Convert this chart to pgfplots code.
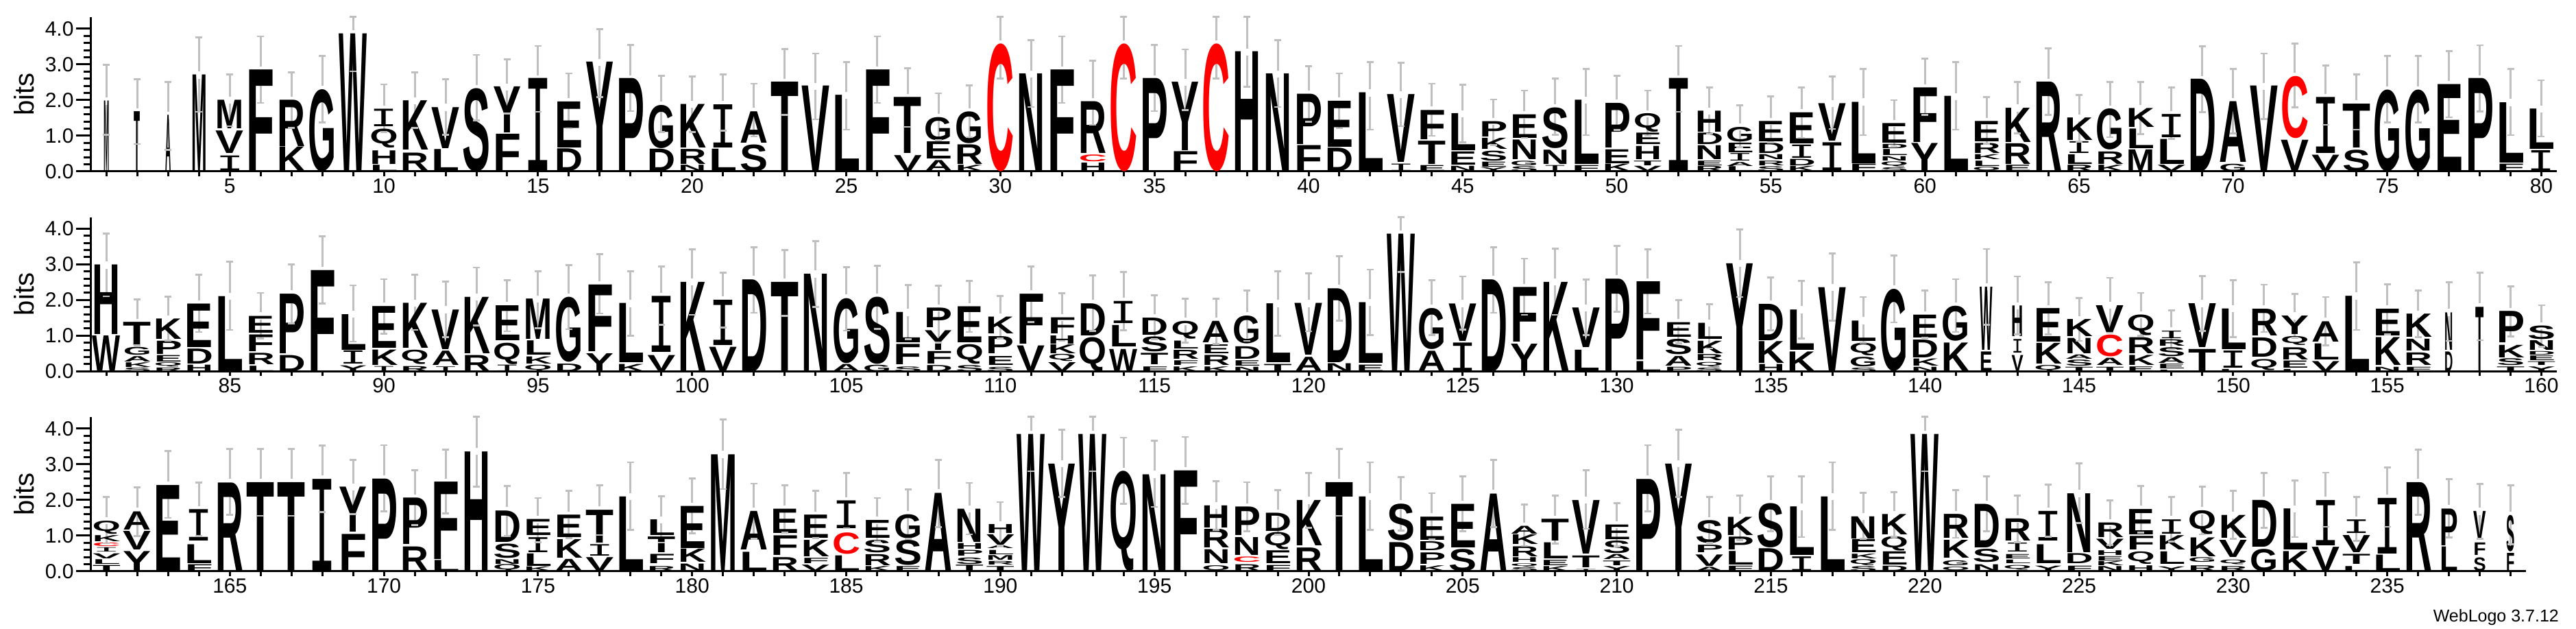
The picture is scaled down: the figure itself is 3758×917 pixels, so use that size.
\documentclass[border=0pt]{standalone}
\usepackage{fontspec}
\usepackage{graphicx}
\usepackage{pgfplots}
\usepackage{pgfplotstable}
\pgfplotsset{compat=1.18}
\setmainfont{Liberation Sans}
\newfontfamily\ifont{Liberation Mono}
\definecolor{errgrey}{gray}{0.75}
\def\letterI{I}
\newcommand{\logoglyph}{\edef\tmpl{\pgfplotspointmeta}\ifx\tmpl\letterI{\ifont I}\else{\bfseries\pgfplotspointmeta}\fi}
\pgfplotsset{
 logo/.style={only marks, mark=none, point meta=explicit symbolic,
  visualization depends on={\thisrow{b}-\thisrow{a}\as\hh},
  visualization depends on={\thisrow{w}\as\www},
  nodes near coords={\pgfmathsetlengthmacro\hl{\hh*52pt}\pgfmathsetlengthmacro\wl{\www*41pt}\resizebox*{\wl}{\hl}{\logoglyph}},
  nodes near coords style={anchor=south,inner sep=0pt,outer sep=0pt,text=#1}},
 errbar/.style={errgrey, line width=3pt, mark=none},
 errcap/.style={only marks, mark=-, mark size=5pt, draw=errgrey, line width=2.7pt, mark options={draw=errgrey,solid}},
 rowaxis/.style={scale only axis, height=224.64pt, ymin=0, ymax=4.32, clip=false,
  axis x line*=bottom, axis y line*=left, axis line style={-,line width=3pt,black},
  tick align=outside, tick style={black,line width=3pt},
  major tick length=22pt, minor tick length=11pt,
  ytick={0,1,2,3,4}, yticklabels={0.0,1.0,2.0,3.0,4.0}, minor y tick num=4,
  xtick=\empty, extra x tick style={major tick length=7pt},
  tick label style={font=\fontsize{30}{36}\selectfont},
  tick label style={black},
  ylabel={\fontsize{40}{48}\selectfont bits},
  every axis y label/.style={at={(axis description cs:0,0.5)},anchor=center,xshift=-98pt,rotate=90},
 },
}
\pgfplotstableread[row sep=\\]{p a b L w\\
1 0 1.97 M .2\\ 2 0 1.67 T .22\\ 3 0 1.57 A .2\\ 4 0 2.7 M .55\\
5 .03 .44 I 1\\ 5 .5 1.13 V 1\\ 5 1.2 2 M 1\\
6 0 2.84 F 1\\ 7 0 .68 K 1\\ 7 .7 2 R 1\\ 8 0 2.3 G 1\\ 9 0 3.87 W 1\\
10 0 .17 L 1\\ 10 .2 .58 H 1\\ 10 .66 1.19 Q 1\\ 10 1.26 1.75 I 1\\
11 .03 .52 R 1\\ 11 .6 1.98 K 1\\ 12 0 .61 L 1\\ 12 .65 1.8 V 1\\ 13 0 2.33 S 1\\
14 0 1.04 F 1\\ 14 1.08 2.37 Y 1\\ 15 0 2.6 I 1\\ 16 0 .63 D 1\\ 16 .67 1.96 E 1\\
17 0 3.06 Y 1\\ 18 0 2.6 P 1\\ 19 0 .62 D 1\\ 19 .65 1.86 G 1\\
20 0 .17 N 1\\ 20 .2 .62 R 1\\ 20 .66 1.88 K 1\\ 21 0 .62 L 1\\ 21 .67 1.88 I 1\\
22 0 .75 S 1\\ 22 .8 1.68 A 1\\ 23 0 2.5 T 1\\ 24 0 2.39 V 1\\ 25 0 2.13 L 1\\ 26 0 2.84 F 1\\
27 0 .44 V 1\\ 27 .5 2.07 T 1\\ 28 0 .3 A 1\\ 28 .35 .83 E 1\\ 28 .87 1.52 G 1\\
29 0 .17 K 1\\ 29 .2 .75 R 1\\ 29 .78 1.67 G 1\\ 31 0 2.73 N 1\\ 32 0 2.84 F 1\\
33 0 .23 H 1\\ 33 .5 1.95 R 1\\ 35 0 2.6 P 1\\ 36 0 .55 F 1\\ 36 .58 2.5 Y 1\\
38 0 3.35 H 1\\ 39 0 2.73 N 1\\ 40 0 .72 F 1\\ 40 .75 2.16 P 1\\ 41 0 .65 D 1\\ 41 .68 1.97 E 1\\
42 0 2.2 L 1\\ 43 0 .2 I 1\\ 43 .25 2.15 V 1\\ 44 0 .16 E 1\\ 44 .2 .85 T 1\\ 44 .9 1.72 F 1\\
45 0 .14 N 1\\ 45 .18 .55 E 1\\ 45 .58 1.62 L 1\\
46 0 .1 Y 1\\ 46 .13 .27 E 1\\ 46 .3 .58 S 1\\ 46 .62 .93 K 1\\ 46 .97 1.4 P 1\\
47 0 .13 S 1\\ 47 .16 .29 G 1\\ 47 .33 .88 N 1\\ 47 .93 1.59 E 1\\
48 0 .16 I 1\\ 48 .2 .6 N 1\\ 48 .65 1.79 S 1\\ 49 0 .16 F 1\\ 49 .2 2 L 1\\
50 0 .2 K 1\\ 50 .23 .62 E 1\\ 50 .67 1.92 P 1\\
51 0 .14 V 1\\ 51 .17 .3 T 1\\ 51 .33 .7 H 1\\ 51 .75 1.07 E 1\\ 51 1.1 1.62 Q 1\\
52 0 2.6 I 1\\ 53 0 .14 R 1\\ 53 .17 .3 E 1\\ 53 .33 .72 N 1\\ 53 .75 1.07 D 1\\ 53 1.1 1.69 H 1\\
54 0 .13 L 1\\ 54 .15 .26 A 1\\ 54 .29 .5 I 1\\ 54 .53 .8 E 1\\ 54 .84 1.25 G 1\\
55 0 .13 S 1\\ 55 .17 .3 R 1\\ 55 .33 .47 N 1\\ 55 .5 .79 D 1\\ 55 .83 1.4 E 1\\
56 0 .14 K 1\\ 56 .17 .35 D 1\\ 56 .38 .75 I 1\\ 56 .78 1.65 E 1\\
57 0 .8 I 1\\ 57 .85 1.9 V 1\\ 58 0 .2 F 1\\ 58 .23 1.95 L 1\\
59 0 .1 S 1\\ 59 .13 .27 Q 1\\ 59 .3 .42 N 1\\ 59 .45 .62 L 1\\ 59 .65 .77 D 1\\ 59 .8 1.35 E 1\\
60 0 .78 Y 1\\ 60 .82 2.35 F 1\\ 61 0 2.1 L 1\\
62 0 .12 Q 1\\ 62 .15 .3 L 1\\ 62 .33 .47 K 1\\ 62 .5 .78 R 1\\ 62 .83 1.4 E 1\\
63 0 .17 E 1\\ 63 .2 .78 R 1\\ 63 .82 1.78 K 1\\ 64 0 2.5 R 1\\
65 0 .17 R 1\\ 65 .2 .47 L 1\\ 65 .5 .83 I 1\\ 65 .87 1.5 K 1\\
66 0 .17 K 1\\ 66 .2 .55 R 1\\ 66 .6 1.75 G 1\\ 67 0 .6 M 1\\ 67 .65 1.2 L 1\\ 67 1.24 1.77 K 1\\
68 0 .17 V 1\\ 68 .2 .9 L 1\\ 68 .95 1.6 I 1\\ 69 0 2.58 D 1\\ 70 0 .2 G 1\\ 70 .25 1.95 A 1\\
71 0 2.39 V 1\\ 72 0 .87 V 1\\ 73 0 .45 V 1\\ 73 .5 2.07 I 1\\ 74 0 .6 S 1\\ 74 .67 1.9 T 1\\
75 0 2.29 G 1\\ 76 0 2.29 G 1\\ 77 0 2.43 E 1\\ 78 0 2.6 P 1\\ 79 0 .2 F 1\\ 79 .24 1.93 L 1\\
80 0 .58 I 1\\ 80 .62 1.75 L 1\\
}\rowone
\pgfplotstableread[row sep=\\]{p a b L w\\
30 0 3.58 C 1\\ 33 .28 .47 C 1\\ 34 0 3.58 C 1\\ 37 0 3.58 C 1\\ 72 .93 2.67 C 1\\
}\redone
\pgfplotstableread[row sep=\\]{p H hi lo\\
1 1.97 2.99 1.03\\ 2 1.67 2.59 .77\\ 3 1.57 2.51 .61\\ 4 2.7 3.76 1.67\\ 5 2 2.72 1.27\\
6 2.84 3.79 1.92\\ 7 2 2.78 1.22\\ 8 2.3 3.24 1.38\\ 9 3.87 4.34 2.81\\ 10 1.75 2.44 1.11\\
11 1.98 2.78 1.22\\ 12 1.8 2.59 1.03\\ 13 2.33 3.27 1.43\\ 14 2.37 3.14 1.62\\ 15 2.6 3.52 1.67\\
16 1.96 2.75 1.21\\ 17 3.06 3.99 2.08\\ 18 2.6 3.55 1.69\\ 19 1.86 2.68 1.11\\ 20 1.88 2.66 1.11\\
21 1.88 2.72 1.15\\ 22 1.68 2.46 .98\\ 23 2.5 3.43 1.58\\ 24 2.39 3.31 1.46\\ 25 2.13 3.07 1.17\\
26 2.84 3.79 1.92\\ 27 2.07 2.89 1.25\\ 28 1.52 2.19 .87\\ 29 1.67 2.41 .96\\ 30 3.58 4.34 2.6\\
31 2.73 3.68 1.81\\ 32 2.84 3.79 1.92\\ 33 1.95 3.1 1.31\\ 34 3.58 4.34 2.6\\ 35 2.6 3.55 1.69\\
36 2.5 3.42 1.72\\ 37 3.58 4.34 2.6\\ 38 3.35 4.34 2.38\\ 39 2.73 3.68 1.81\\ 40 2.16 2.95 1.4\\
41 1.97 2.75 1.21\\ 42 2.2 3.07 1.17\\ 43 2.15 3.05 1.27\\ 44 1.72 2.46 1\\ 45 1.62 2.43 .82\\
46 1.4 2.02 .74\\ 47 1.59 2.27 .94\\ 48 1.79 2.6 1.03\\ 49 2 2.87 1.02\\ 50 1.92 2.68 1.16\\
51 1.62 2.27 1\\ 52 2.6 3.52 1.67\\ 53 1.69 2.35 1.06\\ 54 1.25 1.86 .68\\ 55 1.4 2.1 .82\\
56 1.65 2.35 .94\\ 57 1.9 2.66 1.19\\ 58 1.95 2.87 1.02\\ 59 1.35 2 .71\\ 60 2.35 3.16 1.59\\
61 2.1 3.07 1.17\\ 62 1.4 2.08 .78\\ 63 1.78 2.51 1.07\\ 64 2.5 3.45 1.59\\ 65 1.5 2.14 .84\\
66 1.75 2.51 .96\\ 67 1.77 2.51 1.05\\ 68 1.6 2.35 .91\\ 69 2.58 3.51 1.66\\ 70 1.95 2.87 1.07\\
71 2.39 3.31 1.47\\ 72 2.67 3.59 1.8\\ 73 2.07 2.97 1.31\\ 74 1.9 2.72 1.17\\ 75 2.29 3.24 1.38\\
76 2.29 3.24 1.38\\ 77 2.43 3.37 1.52\\ 78 2.6 3.54 1.68\\ 79 1.93 2.87 1.02\\ 80 1.75 2.56 .98\\
}\errone
\pgfplotstableread[row sep=\\]{p a b L w\\
81 0 1 W 1\\ 81 1.03 2.98 H 1\\
82 0 .1 S 1\\ 82 .12 .25 K 1\\ 82 .27 .42 A 1\\ 82 .45 .67 G 1\\ 82 .72 1.37 T 1\\
83 0 .1 R 1\\ 83 .13 .25 Q 1\\ 83 .27 .45 E 1\\ 83 .48 .85 P 1\\ 83 .9 1.47 K 1\\
84 0 .18 H 1\\ 84 .2 .62 D 1\\ 84 .67 1.89 E 1\\ 85 0 2.1 L 1\\
86 0 .15 L 1\\ 86 .18 .5 R 1\\ 86 .55 1.02 F 1\\ 86 1.08 1.55 E 1\\
87 0 .45 D 1\\ 87 .5 2.17 P 1\\ 88 0 2.83 F 1\\
89 0 .16 Y 1\\ 89 .2 .57 I 1\\ 89 .6 1.6 L 1\\ 90 0 .14 I 1\\ 90 .17 .6 K 1\\ 90 .65 1.82 E 1\\
91 0 .14 R 1\\ 91 .2 .6 Q 1\\ 91 .65 1.91 K 1\\ 92 0 .13 I 1\\ 92 .17 .57 A 1\\ 92 .62 1.73 V 1\\
93 0 .45 R 1\\ 93 .5 2.08 K 1\\ 94 0 .18 I 1\\ 94 .2 .8 Q 1\\ 94 .87 1.85 E 1\\
95 0 .18 Q 1\\ 95 .2 .4 K 1\\ 95 .45 .85 L 1\\ 95 .9 2.03 M 1\\ 96 0 .21 D 1\\ 96 .25 2.07 G 1\\
97 0 .5 Y 1\\ 97 .55 2.42 F 1\\ 98 0 .2 K 1\\ 98 .24 1.9 L 1\\ 99 0 .45 V 1\\ 99 .53 2.1 I 1\\
100 0 2.5 K 1\\ 101 0 .68 V 1\\ 101 .73 2 I 1\\ 102 0 2.57 D 1\\ 103 0 2.5 T 1\\ 104 0 2.73 N 1\\
105 0 .2 A 1\\ 105 .23 2.05 G 1\\ 106 0 .18 G 1\\ 106 .2 2.08 S 1\\
107 0 .13 S 1\\ 107 .18 .75 F 1\\ 107 .8 1.65 L 1\\
108 0 .17 D 1\\ 108 .2 .55 F 1\\ 108 .6 1.15 Y 1\\ 108 1.22 1.77 P 1\\
109 0 .17 S 1\\ 109 .2 .75 Q 1\\ 109 .8 1.81 E 1\\
110 0 .12 S 1\\ 110 .17 .42 E 1\\ 110 .5 .98 P 1\\ 110 1.05 1.52 K 1\\
111 0 .72 V 1\\ 111 .77 2.17 F 1\\
112 0 .25 V 1\\ 112 .27 .47 Q 1\\ 112 .5 .75 K 1\\ 112 .77 1 H 1\\ 112 1.05 1.5 F 1\\
113 0 .95 Q 1\\ 113 1 1.9 D 1\\ 114 0 .62 W 1\\ 114 .68 1.28 L 1\\ 114 1.34 1.96 I 1\\
115 0 .13 F 1\\ 115 .18 .5 T 1\\ 115 .55 .97 S 1\\ 115 1.02 1.5 D 1\\
116 0 .13 K 1\\ 116 .17 .3 F 1\\ 116 .35 .6 R 1\\ 116 .63 .85 L 1\\ 116 .9 1.4 Q 1\\
117 0 .13 K 1\\ 117 .17 .45 R 1\\ 117 .5 .75 E 1\\ 117 .8 1.4 A 1\\
118 0 .12 N 1\\ 118 .15 .3 E 1\\ 118 .35 .7 D 1\\ 118 .77 1.55 G 1\\
119 0 .2 T 1\\ 119 .25 1.9 L 1\\ 120 0 .4 A 1\\ 120 .45 1.9 V 1\\
121 0 .22 N 1\\ 121 .25 2.32 D 1\\ 122 0 .18 E 1\\ 122 .23 1.93 L 1\\ 123 0 3.85 W 1\\
124 0 .57 A 1\\ 124 .62 1.77 G 1\\ 125 0 .8 I 1\\ 125 .85 1.9 V 1\\ 126 0 2.57 D 1\\
127 0 .77 Y 1\\ 127 .82 2.35 F 1\\ 128 0 2.5 K 1\\ 129 0 .6 L 1\\ 129 .67 1.78 V 1\\ 130 0 2.59 P 1\\
131 0 .28 L 1\\ 131 .32 2.51 F 1\\
132 0 .12 P 1\\ 132 .15 .42 A 1\\ 132 .47 .9 S 1\\ 132 .95 1.36 E 1\\
133 0 .1 S 1\\ 133 .12 .25 Q 1\\ 133 .3 .47 R 1\\ 133 .5 .85 K 1\\ 133 .9 1.35 L 1\\
134 0 3.02 Y 1\\ 135 0 .2 H 1\\ 135 .22 .83 K 1\\ 135 .87 1.89 D 1\\ 136 0 .55 K 1\\ 136 .6 1.73 L 1\\
137 0 2.35 V 1\\ 138 0 .1 S 1\\ 138 .13 .4 G 1\\ 138 .43 .78 Q 1\\ 138 .85 1.42 L 1\\ 139 0 2.3 G 1\\
140 0 .12 N 1\\ 140 .15 .35 K 1\\ 140 .38 .88 D 1\\ 140 .93 1.57 E 1\\ 141 0 .8 K 1\\ 141 .85 1.83 G 1\\
142 0 .55 E .45\\ 142 .6 2.37 W .45\\
143 0 .45 V .42\\ 143 .52 .9 I .42\\ 143 .97 1.83 H .42\\
144 0 .17 Q 1\\ 144 .2 .78 K 1\\ 144 .82 1.76 E 1\\
145 0 .12 T 1\\ 145 .15 .32 S 1\\ 145 .35 .47 A 1\\ 145 .5 .93 N 1\\ 145 .97 1.45 K 1\\
146 0 .12 T 1\\ 146 .17 .37 A 1\\ 146 1.08 1.85 V 1\\
147 0 .13 E 1\\ 147 .17 .45 K 1\\ 147 .5 .95 R 1\\ 147 1 1.58 Q 1\\
148 0 .04 L 1\\ 148 .07 .2 E 1\\ 148 .22 .38 A 1\\ 148 .42 .67 S 1\\ 148 .7 .88 R 1\\ 148 .92 1.13 I 1\\
149 0 .62 T 1\\ 149 .67 1.9 V 1\\ 150 0 .06 L 1\\ 150 .09 .57 I 1\\ 150 .62 1.76 L 1\\
151 .02 .33 Q 1\\ 151 .4 .94 D 1\\ 151 1 1.75 R 1\\
152 0 .06 L 1\\ 152 .1 .3 E 1\\ 152 .33 .67 R 1\\ 152 .72 .97 Q 1\\ 152 1.03 1.55 Y 1\\
153 0 .28 V 1\\ 153 .33 .78 L 1\\ 153 .83 1.4 A 1\\ 154 0 2.11 L 1\\
155 0 .12 N 1\\ 155 .17 .95 K 1\\ 155 1 1.75 E 1\\
156 0 .12 F 1\\ 156 .17 .52 R 1\\ 156 .57 .9 N 1\\ 156 .95 1.6 K 1\\
157 0 .55 D .3\\ 157 .6 1.65 N .3\\ 158 0 1.8 T .3\\
159 0 .13 T 1\\ 159 .16 .35 S 1\\ 159 .38 .73 K 1\\ 159 .8 1.68 P 1\\
160 0 .13 Y 1\\ 160 .17 .27 T 1\\ 160 .3 .43 E 1\\ 160 .45 .55 D 1\\ 160 .6 .87 N 1\\ 160 .9 1.28 S 1\\
}\rowtwo
\pgfplotstableread[row sep=\\]{p a b L w\\
146 .42 1.03 C 1\\
}\redtwo
\pgfplotstableread[row sep=\\]{p H hi lo\\
81 2.98 3.86 2.1\\ 82 1.37 2.01 .73\\ 83 1.47 2.09 .86\\ 84 1.89 2.71 1.1\\ 85 2.1 3.07 1.16\\
86 1.55 2.2 .92\\ 87 2.17 3 1.34\\ 88 2.83 3.78 1.9\\ 89 1.6 2.41 .83\\ 90 1.82 2.58 1.06\\
91 1.91 2.71 1.16\\ 92 1.73 2.51 .96\\ 93 2.08 2.91 1.28\\ 94 1.85 2.56 1.12\\ 95 2.03 2.81 1.21\\
96 2.07 2.97 1.18\\ 97 2.42 3.29 1.62\\ 98 1.9 2.81 1\\ 99 2.1 2.94 1.31\\ 100 2.5 3.42 1.58\\
101 2 2.77 1.23\\ 102 2.57 3.48 1.64\\ 103 2.5 3.4 1.56\\ 104 2.73 3.65 1.81\\ 105 2.05 2.92 1.14\\
106 2.08 2.96 1.19\\ 107 1.65 2.42 .9\\ 108 1.77 2.4 .8\\ 109 1.81 2.54 1.1\\ 110 1.52 2.11 .92\\
111 2.17 2.94 1.38\\ 112 1.5 2.19 .85\\ 113 1.9 2.69 1.13\\ 114 1.96 2.79 1.15\\ 115 1.5 2.13 .9\\
116 1.4 2.04 .81\\ 117 1.4 2.03 .76\\ 118 1.55 2.27 .85\\ 119 1.9 2.81 1\\ 120 1.9 2.75 1.12\\
121 2.32 3.22 1.42\\ 122 1.93 2.85 1.01\\ 123 3.85 4.32 2.79\\ 124 1.77 2.56 1.01\\ 125 1.9 2.66 1.17\\
126 2.57 3.48 1.64\\ 127 2.35 3.16 1.58\\ 128 2.5 3.44 1.58\\ 129 1.78 2.57 1.02\\ 130 2.59 3.52 1.67\\
131 2.51 3.42 1.62\\ 132 1.36 2 .78\\ 133 1.35 1.88 .64\\ 134 3.02 3.97 2.08\\ 135 1.89 2.63 1.15\\
136 1.73 2.53 .92\\ 137 2.35 3.31 1.42\\ 138 1.42 2.08 .8\\ 139 2.3 3.24 1.37\\ 140 1.57 2.26 .94\\
141 1.83 2.58 1.1\\ 142 2.37 3.43 1.31\\ 143 1.83 2.66 1.04\\ 144 1.76 2.49 1.04\\ 145 1.45 2.06 .85\\
146 1.85 2.62 1.08\\ 147 1.58 2.2 .99\\ 148 1.13 1.71 .62\\ 149 1.9 2.67 1.13\\ 150 1.76 2.56 .96\\
151 1.75 2.43 1.1\\ 152 1.55 2.17 .94\\ 153 1.4 2.08 .73\\ 154 2.11 3.05 1.16\\ 155 1.75 2.44 1.04\\
156 1.6 2.26 .96\\ 157 1.65 2.49 .85\\ 158 1.8 2.77 .87\\ 159 1.68 2.38 .98\\ 160 1.28 1.85 .69\\
}\errtwo
\pgfplotstableread[row sep=\\]{p a b L w\\
161 0 .16 T 1\\ 161 .2 .33 L 1\\ 161 .36 .5 V 1\\ 161 .54 .66 I 1\\ 161 .83 1 K 1\\ 161 1.05 1.42 Q 1\\
162 0 .55 Y 1\\ 162 .6 1.12 V 1\\ 162 1.17 1.68 A 1\\ 163 0 2.42 E 1\\
164 0 .18 F 1\\ 164 .22 .75 L 1\\ 164 .85 1.73 I 1\\ 165 0 2.49 R 1\\ 166 0 2.5 T 1\\ 167 0 2.5 T 1\\
168 0 2.59 I 1\\ 169 0 1.03 F 1\\ 169 1.1 2.36 Y 1\\ 170 0 2.6 P 1\\ 171 0 .68 R 1\\ 171 .75 2.05 P 1\\
172 0 .3 L 1\\ 172 .33 2.5 F 1\\ 173 0 3.36 H 1\\
174 0 .19 Q 1\\ 174 .2 .33 N 1\\ 174 .37 .77 S 1\\ 174 .82 1.7 D 1\\
175 0 .12 K 1\\ 175 .15 .5 L 1\\ 175 .53 .95 I 1\\ 175 1 1.45 E 1\\
176 0 .33 A 1\\ 176 .38 .9 K 1\\ 176 .95 1.58 E 1\\
177 0 .38 V 1\\ 177 .43 .75 I 1\\ 177 .8 1.72 T 1\\ 178 0 2.1 L 1\\
179 0 .13 R 1\\ 179 .22 .48 F 1\\ 179 .52 .96 T 1\\ 179 1 1.44 L 1\\
180 0 .2 N 1\\ 180 .25 .62 K 1\\ 180 .65 1.83 E 1\\ 181 0 3.28 M 1\\ 182 0 .53 L 1\\ 182 .6 1.68 A 1\\
183 0 .38 R 1\\ 183 .45 1 F 1\\ 183 1.07 1.75 E 1\\
184 0 .17 V 1\\ 184 .22 .37 F 1\\ 184 .42 .88 K 1\\ 184 .93 1.58 E 1\\
185 0 .43 L 1\\ 185 1.2 1.98 I 1\\
186 0 .13 K 1\\ 186 .17 .48 R 1\\ 186 .53 .88 S 1\\ 186 .93 1.43 E 1\\
187 0 .13 E 1\\ 187 .17 .87 S 1\\ 187 .93 1.6 G 1\\ 188 0 2.2 A 1\\
189 0 .17 T 1\\ 189 .2 .38 S 1\\ 189 .44 .6 P 1\\ 189 .62 .78 H 1\\ 189 .82 1.75 N 1\\
190 0 .13 T 1\\ 190 .19 .29 R 1\\ 190 .32 .45 M 1\\ 190 .48 .6 L 1\\ 190 .64 .72 A 1\\ 190 .74 1.03 V 1\\ 190 1.06 1.31 H 1\\
191 0 3.85 W 1\\ 192 0 3.02 Y 1\\ 193 0 3.85 W 1\\ 194 0 2.8 Q 1\\ 195 0 2.72 N 1\\ 196 0 2.83 F 1\\
197 0 .17 Q 1\\ 197 .22 .61 N 1\\ 197 .66 1.18 R 1\\ 197 1.23 1.85 H 1\\
198 0 .18 R 1\\ 198 .45 .95 N 1\\ 198 1 1.8 P 1\\
199 0 .16 F 1\\ 199 .22 .58 E 1\\ 199 .61 1.09 Q 1\\ 199 1.12 1.63 D 1\\
200 0 .65 R 1\\ 200 .72 1.99 K 1\\ 201 0 2.5 T 1\\ 202 0 2.1 L 1\\ 203 0 .8 D 1\\ 203 .87 1.9 S 1\\
204 0 .15 K 1\\ 204 .2 .52 P 1\\ 204 .58 .83 D 1\\ 204 .88 1.53 E 1\\
205 0 .62 S 1\\ 205 .66 1.88 E 1\\ 206 0 2.18 A 1\\
207 0 .1 S 1\\ 207 .13 .22 Q 1\\ 207 .25 .38 H 1\\ 207 .42 .7 R 1\\ 207 .75 1.02 K 1\\ 207 1.05 1.27 A 1\\
208 0 .13 K 1\\ 208 .17 .32 E 1\\ 208 .35 .8 L 1\\ 208 .85 1.46 T 1\\
209 0 .05 I 1\\ 209 .1 .43 T 1\\ 209 .5 2 V 1\\
210 0 .13 Y 1\\ 210 .17 .3 T 1\\ 210 .33 .47 A 1\\ 210 .5 .85 S 1\\ 210 .9 1.31 E 1\\
211 0 2.59 P 1\\ 212 0 3.02 Y 1\\
213 0 .11 A 1\\ 213 .15 .47 V 1\\ 213 .52 .73 P 1\\ 213 .78 1.42 S 1\\
214 0 .14 F 1\\ 214 .18 .56 L 1\\ 214 .61 .97 P 1\\ 214 1 1.51 K 1\\
215 0 .63 D 1\\ 215 .66 1.9 S 1\\ 216 0 .4 I 1\\ 216 .45 1.81 L 1\\ 217 0 2.1 L 1\\
218 0 .13 S 1\\ 218 .16 .33 Q 1\\ 218 .36 .49 K 1\\ 218 .53 .9 E 1\\ 218 .92 1.54 N 1\\
219 0 .14 D 1\\ 219 .18 .55 E 1\\ 219 .58 .98 Q 1\\ 219 1.03 1.6 K 1\\ 220 0 3.85 W 1\\
221 0 .12 Q 1\\ 221 .16 .3 G 1\\ 221 .37 .87 K 1\\ 221 .93 1.6 R 1\\
222 0 .18 N 1\\ 222 .25 .62 S 1\\ 222 .66 1.88 D 1\\
223 .03 .16 Q 1\\ 223 .22 .32 L 1\\ 223 .36 .48 E 1\\ 223 .55 .8 I 1\\ 223 .85 1.47 R 1\\
224 0 .14 Y 1\\ 224 .22 .75 L 1\\ 224 .85 1.68 I 1\\ 225 0 .14 F 1\\ 225 .22 .5 D 1\\ 225 .53 2.18 N 1\\
226 0 .13 N 1\\ 226 .16 .28 K 1\\ 226 .3 .42 E 1\\ 226 .45 .58 H 1\\ 226 .62 .9 V 1\\ 226 .95 1.36 R 1\\
227 0 .15 H 1\\ 227 .2 .55 Q 1\\ 227 .6 .98 F 1\\ 227 1.03 1.74 E 1\\
228 0 .12 Y 1\\ 228 .2 .55 L 1\\ 228 .6 1 K 1\\ 228 1.05 1.45 I 1\\
229 0 .15 R 1\\ 229 .25 .38 G 1\\ 229 .42 .95 K 1\\ 229 1.03 1.7 Q 1\\
230 0 .13 R 1\\ 230 .2 .33 Q 1\\ 230 .4 .88 V 1\\ 230 .94 1.58 K 1\\
231 0 .62 G 1\\ 231 .68 1.99 D 1\\ 232 0 .55 K 1\\ 232 .6 1.75 L 1\\ 233 0 .67 V 1\\ 233 .73 2 I 1\\
234 0 .13 L 1\\ 234 .2 .48 T 1\\ 234 .52 1 V 1\\ 234 1.06 1.44 I 1\\ 235 0 .45 L 1\\ 235 .5 2.06 I 1\\
236 0 2.5 R 1\\ 237 0 .68 L .65\\ 237 .73 1.76 P .65\\
238 0 .38 S .45\\ 238 .45 .8 F .45\\ 238 .87 1.68 V .45\\ 239 0 .5 F .3\\ 239 .55 1.57 S .3\\
}\rowthree
\pgfplotstableread[row sep=\\]{p a b L w\\
161 .7 .8 C 1\\ 185 .48 1.08 C 1\\ 198 .25 .4 C 1\\
}\redthree
\pgfplotstableread[row sep=\\]{p H hi lo\\
161 1.42 2.08 .79\\ 162 1.68 2.36 .99\\ 163 2.42 3.37 1.5\\ 164 1.73 2.49 .99\\ 165 2.49 3.43 1.58\\
166 2.5 3.43 1.56\\ 167 2.5 3.43 1.56\\ 168 2.59 3.53 1.66\\ 169 2.36 3.12 1.6\\ 170 2.6 3.54 1.68\\
171 2.05 2.83 1.3\\ 172 2.5 3.41 1.62\\ 173 3.36 4.33 2.38\\ 174 1.7 2.4 .99\\ 175 1.45 2.06 .82\\
176 1.58 2.26 .93\\ 177 1.72 2.42 1.02\\ 178 2.1 3.06 1.17\\ 179 1.44 2.1 .81\\ 180 1.83 2.6 1.07\\
181 3.28 4.26 2.31\\ 182 1.68 2.46 .91\\ 183 1.75 2.42 1.08\\ 184 1.58 2.26 .93\\ 185 1.98 2.76 1.21\\
186 1.43 2.06 .83\\ 187 1.6 2.3 .91\\ 188 2.2 3.13 1.24\\ 189 1.75 2.48 1.04\\ 190 1.31 1.94 .7\\
191 3.85 4.33 2.81\\ 192 3.02 3.97 2.08\\ 193 3.85 4.33 2.81\\ 194 2.8 3.75 1.89\\ 195 2.72 3.67 1.81\\
196 2.83 3.77 1.9\\ 197 1.85 2.53 1.17\\ 198 1.8 2.5 1.12\\ 199 1.63 2.28 1.03\\ 200 1.99 2.76 1.22\\
201 2.5 3.43 1.56\\ 202 2.1 3.06 1.17\\ 203 1.9 2.64 1.15\\ 204 1.53 2.19 .9\\ 205 1.88 2.66 1.13\\
206 2.18 3.13 1.24\\ 207 1.27 1.87 .71\\ 208 1.46 2.13 .78\\ 209 2 2.83 1.19\\ 210 1.31 1.92 .7\\
211 2.59 3.54 1.68\\ 212 3.02 3.97 2.08\\ 213 1.42 2.08 .8\\ 214 1.51 2.13 .87\\ 215 1.9 2.67 1.13\\
216 1.81 2.66 .96\\ 217 2.1 3.06 1.17\\ 218 1.54 2.2 .91\\ 219 1.6 2.22 .97\\ 220 3.85 4.33 2.81\\
221 1.6 2.28 .94\\ 222 1.88 2.66 1.13\\ 223 1.47 2.12 .82\\ 224 1.68 2.43 .97\\ 225 2.18 3.03 1.35\\
226 1.36 1.99 .74\\ 227 1.74 2.39 1.08\\ 228 1.45 2.08 .83\\ 229 1.7 2.37 1.04\\ 230 1.58 2.26 .92\\
231 1.99 2.76 1.22\\ 232 1.75 2.55 .96\\ 233 2 2.77 1.25\\ 234 1.44 2.08 .85\\ 235 2.06 2.91 1.25\\
236 2.5 3.42 1.58\\ 237 1.76 2.59 .95\\ 238 1.68 2.45 .91\\ 239 1.57 2.42 .76\\
}\errthree
\newcommand{\errplots}[1]{%
\addplot[errbar,quiver={u=0,v=\thisrow{hi}-\thisrow{H}-0.1}] table[x=p,y expr=\thisrow{H}+0.1]{#1};
\addplot[errbar,quiver={u=0,v=\thisrow{lo}-\thisrow{H}+0.1}] table[x=p,y expr=\thisrow{H}-0.1]{#1};
\addplot[errcap] table[x=p,y=hi]{#1};
\addplot[errcap] table[x=p,y=lo]{#1};
}
\begin{document}
\begin{tikzpicture}
\path[use as bounding box] (0,0) rectangle (3758pt,917pt);
\begin{axis}[rowaxis, at={(133pt,667pt)}, anchor=south west, width=3597pt, xmin=0.5, xmax=80.5,
 extra x ticks={1,2,...,80},
 extra x tick labels={,,,,5,,,,,10,,,,,15,,,,,20,,,,,25,,,,,30,,,,,35,,,,,40,,,,,45,,,,,50,,,,,55,,,,,60,,,,,65,,,,,70,,,,,75,,,,,80}]
\addplot[logo=black] table[x=p,y=a,meta=L]{\rowone};
\addplot[logo=red] table[x=p,y=a,meta=L]{\redone};
\errplots{\errone}
\end{axis}
\begin{axis}[rowaxis, at={(133pt,375.7pt)}, anchor=south west, width=3597pt, xmin=80.5, xmax=160.5,
 extra x ticks={81,82,...,160},
 extra x tick labels={,,,,85,,,,,90,,,,,95,,,,,100,,,,,105,,,,,110,,,,,115,,,,,120,,,,,125,,,,,130,,,,,135,,,,,140,,,,,145,,,,,150,,,,,155,,,,,160}]
\addplot[logo=black] table[x=p,y=a,meta=L]{\rowtwo};
\addplot[logo=red] table[x=p,y=a,meta=L]{\redtwo};
\errplots{\errtwo}
\end{axis}
\begin{axis}[rowaxis, at={(133pt,84pt)}, anchor=south west, width=3552pt, xmin=160.5, xmax=239.5,
 extra x ticks={161,162,...,239},
 extra x tick labels={,,,,165,,,,,170,,,,,175,,,,,180,,,,,185,,,,,190,,,,,195,,,,,200,,,,,205,,,,,210,,,,,215,,,,,220,,,,,225,,,,,230,,,,,235,,,,}]
\addplot[logo=black] table[x=p,y=a,meta=L]{\rowthree};
\addplot[logo=red] table[x=p,y=a,meta=L]{\redthree};
\errplots{\errthree}
\end{axis}
\node[anchor=south east,inner sep=0pt,font=\fontsize{25}{30}\selectfont] at (3733pt,5pt) {WebLogo 3.7.12};
\end{tikzpicture}
\end{document}
